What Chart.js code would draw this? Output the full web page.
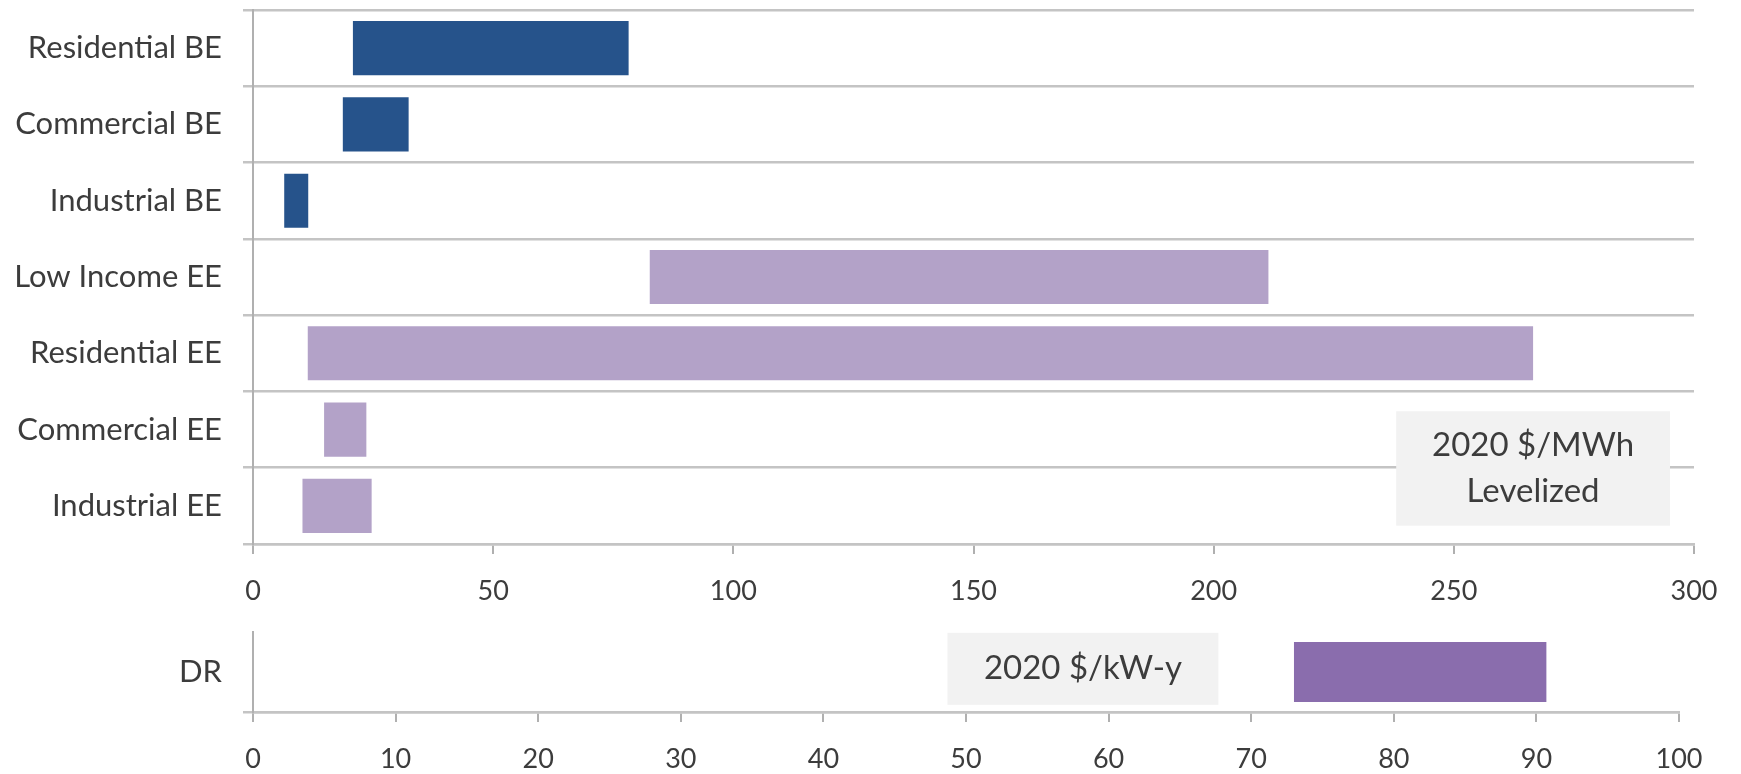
<!DOCTYPE html>
<html>
<head>
<meta charset="utf-8">
<script src="https://cdn.jsdelivr.net/npm/chart.js@4.4.1/dist/chart.umd.min.js"></script>
<style>
  html, body { margin: 0; padding: 0; background: #ffffff; }
  #wrap { position: relative; width: 1741px; height: 774px; overflow: hidden; background: #ffffff; }
  #energyChart { position: absolute; left: 0; top: 0; }
  #capacityChart { position: absolute; left: 0; top: 610px; }
</style>
</head>
<body>
<div id="wrap">
  <canvas id="energyChart" width="1741" height="610"></canvas>
  <canvas id="capacityChart" width="1741" height="164"></canvas>
</div>
<script>
// Levelized cost ranges by program (2020 $/MWh)
const programs = ['Residential BE', 'Commercial BE', 'Industrial BE', 'Low Income EE', 'Residential EE', 'Commercial EE', 'Industrial EE'];
const programType = ['BE', 'BE', 'BE', 'EE', 'EE', 'EE', 'EE'];
const costLow = [20.8, 18.7, 6.5, 82.6, 11.4, 14.8, 10.3];
const costHigh = [78.2, 32.4, 11.5, 211.4, 266.5, 23.6, 24.7];
const energyTicks = [0, 50, 100, 150, 200, 250, 300];

// Demand response cost range (2020 $/kW-y)
const drPrograms = ['DR'];
const drLow = [73.0];
const drHigh = [90.7];
const capacityTicks = [0, 10, 20, 30, 40, 50, 60, 70, 80, 90, 100];

const energyNote = ['2020 $/MWh', 'Levelized'];
const capacityNote = ['2020 $/kW-y'];

const typeColors = { BE: '#26538b', EE: '#b3a2c8', DR: '#8a6dad' };
const FONT = 'Lato';
const TEXT = '#3c3c3c';
const GRID = '#c4c4c4';
const AXIS = '#b0b0b0';

// Shaded unit box, placed in data coordinates of the chart's scales
const noteBox = {
  id: 'noteBox',
  afterDatasetsDraw(chart, args, opts) {
    if (!opts || !opts.lines) return;
    const { ctx, scales: { x, y } } = chart;
    const left = x.getPixelForValue(opts.x0);
    const right = x.getPixelForValue(opts.x1);
    const top = y.getPixelForValue(opts.y0);
    const bottom = y.getPixelForValue(opts.y1);
    ctx.save();
    ctx.fillStyle = '#f2f2f2';
    ctx.fillRect(left, top, right - left, bottom - top);
    ctx.fillStyle = TEXT;
    ctx.font = opts.fontSize + 'px ' + FONT;
    ctx.textAlign = 'center';
    ctx.textBaseline = 'middle';
    const cx = (left + right) / 2;
    const cy = (top + bottom) / 2;
    const n = opts.lines.length;
    opts.lines.forEach((t, i) => {
      ctx.fillText(t, cx, cy + (i - (n - 1) / 2) * opts.lineHeight);
    });
    ctx.restore();
  }
};

function fixedTicks(list) {
  return function (scale) { scale.ticks = list.map(v => ({ value: v })); };
}

function buildCharts() {
  new Chart(document.getElementById('energyChart'), {
    type: 'bar',
    data: {
      labels: programs,
      datasets: [{
        data: programs.map((_, i) => [costLow[i], costHigh[i]]),
        backgroundColor: programType.map(t => typeColors[t]),
        borderWidth: 0,
        barPercentage: 0.71,
        categoryPercentage: 1.0
      }]
    },
    options: {
      indexAxis: 'y',
      responsive: false,
      animation: false,
      devicePixelRatio: 1,
      layout: { padding: { top: 10, right: 47, left: 0, bottom: 0 } },
      plugins: {
        legend: { display: false },
        tooltip: { enabled: false },
        noteBox: { lines: energyNote, x0: 238, x1: 295, y0: 4.76, y1: 6.26, fontSize: 33, lineHeight: 46 }
      },
      scales: {
        x: {
          type: 'linear',
          min: energyTicks[0],
          max: energyTicks[energyTicks.length - 1],
          afterBuildTicks: fixedTicks(energyTicks),
          grid: { drawOnChartArea: false, drawTicks: true, tickLength: 10, color: AXIS, lineWidth: 2 },
          border: { display: true, color: GRID, width: 2.5 },
          ticks: { font: { family: FONT, size: 27 }, color: TEXT, padding: 21, maxRotation: 0, autoSkip: false },
          afterFit(s) { s.height = 66; s.paddingLeft = 0; s.paddingRight = 0; }
        },
        y: {
          type: 'category',
          offset: true,
          grid: { offset: true, color: GRID, lineWidth: 2.5, tickLength: 10, drawTicks: true },
          border: { display: true, color: AXIS, width: 2 },
          ticks: { font: { family: FONT, size: 31 }, color: TEXT, padding: 21, autoSkip: false },
          afterFit(s) { s.width = 253; s.paddingTop = 0; s.paddingBottom = 0; }
        }
      }
    },
    plugins: [noteBox]
  });

  new Chart(document.getElementById('capacityChart'), {
    type: 'bar',
    data: {
      labels: drPrograms,
      datasets: [{
        data: drPrograms.map((_, i) => [drLow[i], drHigh[i]]),
        backgroundColor: drPrograms.map(() => typeColors.DR),
        borderWidth: 0,
        barPercentage: 0.75,
        categoryPercentage: 1.0
      }]
    },
    options: {
      indexAxis: 'y',
      responsive: false,
      animation: false,
      devicePixelRatio: 1,
      layout: { padding: { top: 22, right: 62, left: 0, bottom: 0 } },
      plugins: {
        legend: { display: false },
        tooltip: { enabled: false },
        noteBox: { lines: capacityNote, x0: 48.7, x1: 67.7, y0: -0.49, y1: 0.41, fontSize: 33, lineHeight: 46 }
      },
      scales: {
        x: {
          type: 'linear',
          min: capacityTicks[0],
          max: capacityTicks[capacityTicks.length - 1],
          afterBuildTicks: fixedTicks(capacityTicks),
          grid: { drawOnChartArea: false, drawTicks: true, tickLength: 10, color: AXIS, lineWidth: 2 },
          border: { display: true, color: GRID, width: 2.5 },
          ticks: { font: { family: FONT, size: 27 }, color: TEXT, padding: 21, maxRotation: 0, autoSkip: false },
          afterFit(s) { s.height = 62; s.paddingLeft = 0; s.paddingRight = 0; }
        },
        y: {
          type: 'category',
          offset: true,
          grid: {
            offset: true,
            color: c => (c.type === 'tick' ? 'rgba(0,0,0,0)' : GRID),
            lineWidth: 2.5, tickLength: 10, drawTicks: true
          },
          border: { display: true, color: AXIS, width: 2 },
          ticks: { font: { family: FONT, size: 31 }, color: TEXT, padding: 21, autoSkip: false },
          afterFit(s) { s.width = 253; s.paddingTop = 0; s.paddingBottom = 0; }
        }
      }
    },
    plugins: [noteBox]
  });
}

const fontsReady = document.fonts && document.fonts.load
  ? Promise.all([document.fonts.load('31px Lato'), document.fonts.load('27px Lato')]).catch(() => {})
  : Promise.resolve();
fontsReady.then(buildCharts);
</script>
</body>
</html>
